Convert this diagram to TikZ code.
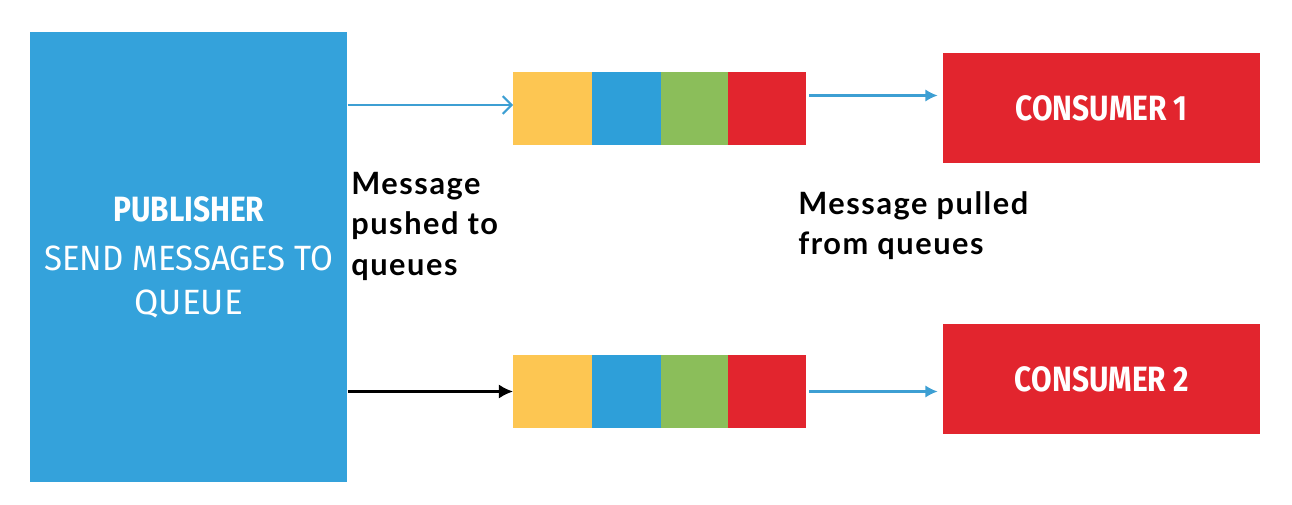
\documentclass[tikz,border=0pt]{standalone}
\usepackage{fontspec}
\usetikzlibrary{positioning,arrows.meta}
\setmainfont{Fira Sans}
\newfontfamily\condfont[FakeStretch=0.85]{Fira Sans}
\newfontfamily\widefont[FakeStretch=0.94]{Fira Sans}
\newfontfamily\lblfont[LetterSpace=5]{Lato}

\definecolor{pubblue}{HTML}{34A2DB}
\definecolor{qyellow}{HTML}{FDC652}
\definecolor{qblue}{HTML}{2E9FD9}
\definecolor{qgreen}{HTML}{8BBE5A}
\definecolor{qred}{HTML}{E2252E}
\definecolor{arrowblue}{HTML}{3D9FD3}

\tikzset{
  pubbox/.style={fill=pubblue, anchor=north west, minimum width=6.34cm,
    minimum height=9cm, inner sep=0pt, text=white, align=center,
    font=\fontsize{20}{25}\selectfont},
  cell/.style={minimum height=1.46cm, inner sep=0pt, outer sep=0pt},
  consbox/.style={fill=qred, anchor=north west, minimum width=6.34cm,
    minimum height=2.2cm, inner sep=0pt, text=white,
    font=\condfont\bfseries\fontsize{20}{24}\selectfont},
  lbl/.style={anchor=north west, inner sep=0pt, align=left,
    font=\lblfont\bfseries\fontsize{17.5}{23}\selectfont},
  bluearrow/.style={draw=arrowblue, line width=1.2pt, -{Latex[length=7pt,width=7pt]}},
}

\begin{document}
\begin{tikzpicture}[x=0.02cm,y=-0.02cm]
\useasboundingbox (0,0) rectangle (1292,504);

% publisher
\node[pubbox] (pub) at (30,32) {\condfont\bfseries PUBLISHER\\[3pt]
  \widefont\mdseries SEND MESSAGES TO\\QUEUE};

% queue 1
\node[cell, fill=qyellow, minimum width=1.58cm, anchor=north west] (q1y) at (513,72) {};
\node[cell, fill=qblue, minimum width=1.38cm, right=0pt of q1y] (q1b) {};
\node[cell, fill=qgreen, minimum width=1.34cm, right=0pt of q1b] (q1g) {};
\node[cell, fill=qred, minimum width=1.56cm, right=0pt of q1g] (q1r) {};

% queue 2
\node[cell, fill=qyellow, minimum width=1.58cm, anchor=north west] (q2y) at (513,355) {};
\node[cell, fill=qblue, minimum width=1.38cm, right=0pt of q2y] (q2b) {};
\node[cell, fill=qgreen, minimum width=1.34cm, right=0pt of q2b] (q2g) {};
\node[cell, fill=qred, minimum width=1.56cm, right=0pt of q2g] (q2r) {};

% consumers
\node[consbox] (c1) at (943,53) {CONSUMER 1};
\node[consbox] (c2) at (943,324) {CONSUMER 2};

% labels
\node[lbl] (pushlbl) at (351,172) {Message\\pushed to\\queues};
\node[lbl] (pulllbl) at (798,191) {Message pulled\\from queues};

% arrows
\draw[draw=arrowblue, line width=1.2pt, -{Straight Barb[length=5pt,width=10pt]}]
  ([yshift=0.07cm]q1y.west -| pub.east) -- ([yshift=0.07cm]q1y.west);
\draw[line width=1.2pt, -{Latex[length=8pt,width=8pt]}] (q2y.west -| pub.east) -- (q2y.west);
\draw[bluearrow] ([yshift=0.26cm,xshift=2pt]q1r.east) -- ([yshift=0.26cm,xshift=-3pt]q1r.east -| c1.west);
\draw[bluearrow] ([xshift=2pt]q2r.east) -- ([xshift=-3pt]q2r.east -| c2.west);
\end{tikzpicture}
\end{document}
